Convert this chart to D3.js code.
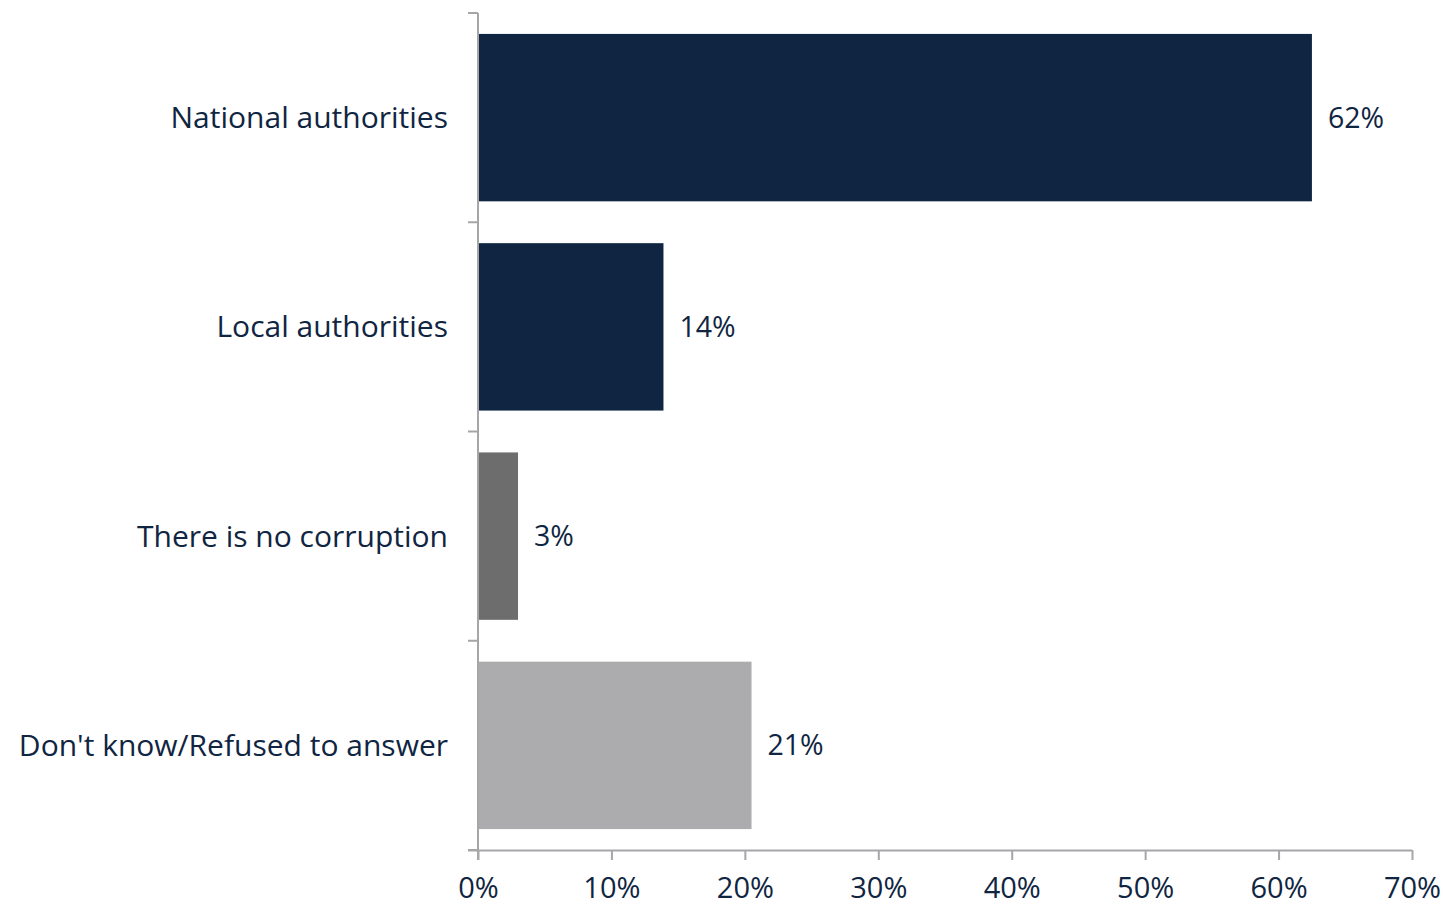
<!DOCTYPE html>
<html><head><meta charset="utf-8">
<script src="https://cdn.jsdelivr.net/npm/d3@7"></script>
<style>
html,body{margin:0;padding:0;background:#fff;}
svg text{font-family:"Open Sans",sans-serif;fill:#0f2541;}
</style></head>
<body>
<svg id="chart" width="1443" height="907"></svg>
<script>
const categories = ["National authorities","Local authorities","There is no corruption","Don't know/Refused to answer"];
const values = [62.5, 13.9, 3.0, 20.5];
const valueLabels = ["62%","14%","3%","21%"];
const barColors = ["#0f2541","#0f2541","#6d6d6d","#acacae"];
const xTicks = [0,10,20,30,40,50,60,70];

const svg = d3.select("#chart");
const m = {left:478, right:1412, top:13, bottom:850};
const x = d3.scaleLinear().domain([0,70]).range([m.left, m.right]);
const y = d3.scaleBand().domain(categories).range([m.top, m.bottom]).paddingInner(0.2).paddingOuter(0.1);

const fsCat = 30, fsTick = 29, fsVal = 28.5;
// bars
svg.selectAll("rect.bar").data(categories).join("rect")
  .attr("class","bar")
  .attr("x", x(0))
  .attr("y", d=>y(d))
  .attr("width", (d,i)=>x(values[i])-x(0))
  .attr("height", y.bandwidth())
  .attr("fill", (d,i)=>barColors[i]);

// x axis
const xAxis = svg.append("g").attr("transform",`translate(0,${m.bottom})`)
  .call(d3.axisBottom(x).tickValues(xTicks).tickFormat(d=>d+"%").tickSize(10).tickSizeOuter(0).tickPadding(17));
xAxis.select(".domain").attr("stroke","#a6a6a9").attr("stroke-width",2).attr("d",`M${m.left-10},0.5H${m.right}`);
xAxis.selectAll(".tick line").attr("stroke","#a6a6a9").attr("stroke-width",2);
xAxis.selectAll(".tick text").attr("font-size",fsTick).attr("fill","#0f2541");

// y axis
const yAxis = svg.append("g").attr("transform",`translate(${m.left},0)`);
const yBounds = [m.top, ...categories.map(c=>y(c)+y.bandwidth()+y.step()*y.paddingInner()/2)];
yBounds[yBounds.length-1] = m.bottom;
yAxis.append("line").attr("x1",0).attr("x2",0).attr("y1",m.top).attr("y2",m.bottom+10).attr("stroke","#a6a6a9").attr("stroke-width",2);
yAxis.selectAll("line.tk").data(yBounds).join("line").attr("class","tk")
  .attr("x1",-10).attr("x2",0).attr("y1",d=>d).attr("y2",d=>d).attr("stroke","#a6a6a9").attr("stroke-width",2);

// category labels
svg.selectAll("text.cat").data(categories).join("text").attr("class","cat")
  .attr("x", m.left-30)
  .attr("y", d=>y(d)+y.bandwidth()/2)
  .attr("dy","0.35em")
  .attr("text-anchor","end")
  .attr("font-size",fsCat)
  .text(d=>d);

// value labels
svg.selectAll("text.val").data(categories).join("text").attr("class","val")
  .attr("x", (d,i)=>x(values[i])+16)
  .attr("y", d=>y(d)+y.bandwidth()/2)
  .attr("dy","0.35em")
  .attr("font-size",fsVal)
  .text((d,i)=>valueLabels[i]);
</script>
</body></html>
